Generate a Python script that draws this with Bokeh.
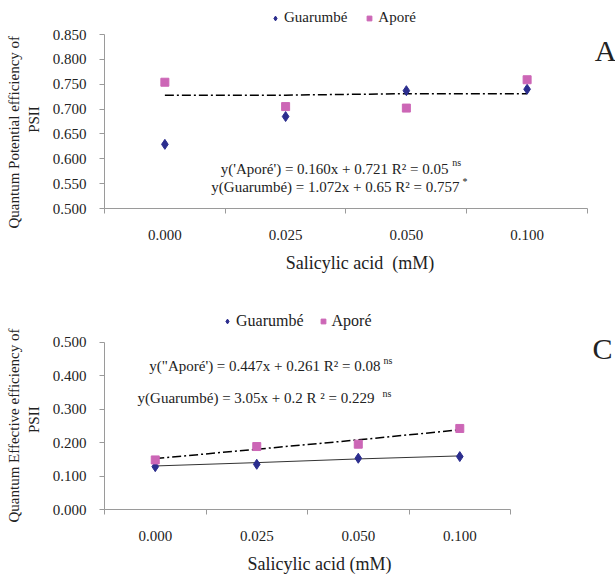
from bokeh.plotting import figure
from bokeh.models import (Range1d, FixedTicker, Legend, LegendItem, Label,
                          NumeralTickFormatter, Title)
from bokeh.layouts import column
from bokeh.embed import file_html
from bokeh.resources import INLINE

FONT = "Liberation Serif"
NAVY = "#2B2D8E"
PINK = "#CC66B6"
AXIS = "#9A9A9A"
NB = "\u00a0"

# ---- data ----
categories = ["0.000", "0.025", "0.050", "0.100"]
cat_pos = [0, 1, 2, 3]
boundaries = [-0.5, 0.5, 1.5, 2.5, 3.5]

a_guarumbe = [0.629, 0.685, 0.737, 0.740]
a_apore = [0.754, 0.705, 0.702, 0.759]
a_trend = [0.728, 0.728, 0.731, 0.731]
a_yticks = [0.500, 0.550, 0.600, 0.650, 0.700, 0.750, 0.800, 0.850]

c_guarumbe = [0.128, 0.135, 0.153, 0.158]
c_apore = [0.148, 0.188, 0.195, 0.242]
c_trend_guarumbe = [0.130, 0.140, 0.151, 0.160]
c_trend_apore = [0.152, 0.180, 0.208, 0.238]
c_yticks = [0.0, 0.1, 0.2, 0.3, 0.4, 0.5]


def make_panel(height, bottom, xr, yr, ybounds, yticks, ylabel, xlabel,
               psii_pad, title_offset):
    p = figure(width=615, height=height, x_range=Range1d(*xr),
               y_range=Range1d(*yr), output_backend="svg",
               toolbar_location=None, min_border_left=104,
               min_border_right=0, min_border_top=0,
               min_border_bottom=bottom)
    p.outline_line_color = None
    p.xgrid.visible = False
    p.ygrid.visible = False
    p.background_fill_color = "white"
    p.border_fill_color = "white"

    xa = p.xaxis[0]
    xa.bounds = (boundaries[0], boundaries[-1])
    xa.ticker = FixedTicker(ticks=cat_pos, minor_ticks=boundaries)
    xa.major_label_overrides = {i: c for i, c in zip(cat_pos, categories)}
    xa.major_tick_out = 0
    xa.major_tick_in = 0
    xa.minor_tick_out = 5
    xa.minor_tick_in = 0
    xa.minor_tick_line_color = AXIS
    xa.axis_line_color = AXIS
    xa.major_label_text_font = FONT
    xa.major_label_text_font_size = "15px"
    xa.major_label_text_color = "#222222"
    xa.major_label_standoff = 16
    xa.axis_label = xlabel
    xa.axis_label_text_font = FONT
    xa.axis_label_text_font_size = "18px"
    xa.axis_label_text_font_style = "normal"
    xa.axis_label_text_color = "#222222"
    xa.axis_label_standoff = 10

    ya = p.yaxis[0]
    ya.bounds = ybounds
    ya.ticker = FixedTicker(ticks=yticks)
    ya.formatter = NumeralTickFormatter(format="0.000")
    ya.major_tick_out = 5
    ya.major_tick_in = 0
    ya.minor_tick_line_color = None
    ya.major_tick_line_color = AXIS
    ya.axis_line_color = AXIS
    ya.major_label_text_font = FONT
    ya.major_label_text_font_size = "15px"
    ya.major_label_text_color = "#222222"
    ya.major_label_standoff = 13
    # second line of the y title ("PSII") is the axis label itself
    ya.axis_label = ylabel[1] + NB * psii_pad
    ya.axis_label_text_font = FONT
    ya.axis_label_text_font_size = "15px"
    ya.axis_label_text_font_style = "normal"
    ya.axis_label_text_color = "#222222"
    ya.axis_label_standoff = 8

    # first line of the y title, outside the axis label
    p.add_layout(Title(text=ylabel[0], align="left", offset=title_offset,
                       vertical_align="middle", standoff=0,
                       text_font=FONT, text_font_size="15px",
                       text_font_style="normal",
                       text_color="#222222"), "left")
    return p


def add_legend(p, r1, r2, loc, spacing, size):
    leg = Legend(items=[LegendItem(label="Guarumbé", renderers=[r1]),
                        LegendItem(label="Aporé", renderers=[r2])],
                 orientation="horizontal", location=loc,
                 label_text_font=FONT, label_text_font_size=size,
                 label_text_color="#222222",
                 border_line_color=None, background_fill_alpha=0,
                 glyph_width=12, glyph_height=14, label_standoff=3,
                 spacing=spacing, padding=0, margin=0)
    p.add_layout(leg, "center")


def lab(p, x, y, text, size="15px", align="left"):
    p.add_layout(Label(x=x, y=y, text=text, text_font=FONT,
                       text_font_size=size, text_baseline="middle",
                       text_align=align, text_color="#222222"))


# ---- Panel A ----
pA = make_panel(288, 80, (-0.5, 3.732), (0.5, 0.9184), (0.5, 0.85),
                a_yticks, ["Quantum Potential efficiency of", "PSII"],
                "Salicylic acid" + NB + " (mM)", 8, -20)
pA.line(cat_pos, a_trend, line_color="black", line_width=1.5,
        line_dash="9 3 2 3")
rA1 = pA.scatter(cat_pos, a_guarumbe, marker="diamond", size=10,
                 fill_color=NAVY, line_color=NAVY)
rA2 = pA.scatter(cat_pos, a_apore, marker="square", size=8,
                 fill_color=PINK, line_color=PINK)
add_legend(pA, rA1, rA2, (165, 182), 16, "15px")
lab(pA, 2.349, 0.579, "y('Aporé') = 0.160x + 0.721 R² = 0.05", align="right")
lab(pA, 2.38, 0.592, "ns", "10px")
lab(pA, 2.44, 0.5436, "y(Guarumbé) = 1.072x + 0.65 R² = 0.757",
    align="right")
lab(pA, 2.465, 0.5536, "*", "10px")
lab(pA, 3.649, 0.818, "A", "30px", "center")

# ---- Panel C ----
pC = make_panel(288, 61, (-0.5, 4.534), (0.0, 0.6599), (0.0, 0.5),
                c_yticks, ["Quantum Effective efficiency of", "PSII"],
                "Salicylic acid (mM)" + NB * 18, 11, -13)
pC.line(cat_pos, c_trend_guarumbe, line_color="#333333", line_width=1)
pC.line(cat_pos, c_trend_apore, line_color="black", line_width=1.5,
        line_dash="9 3 2 3")
rC1 = pC.scatter(cat_pos, c_guarumbe, marker="diamond", size=10,
                 fill_color=NAVY, line_color=NAVY)
rC2 = pC.scatter(cat_pos, c_apore, marker="square", size=8,
                 fill_color=PINK, line_color=PINK)
add_legend(pC, rC1, rC2, (117, 179), 13, "16px")
lab(pC, 2.219, 0.4275, "y(\"Aporé') = 0.447x + 0.261 R² = 0.08",
    align="right")
lab(pC, 2.249, 0.444, "ns", "10px")
lab(pC, 2.16, 0.333, "y(Guarumbé) = 3.05x + 0.2 R ² = 0.229",
    align="right")
lab(pC, 2.239, 0.345, "ns", "10px")
lab(pC, 4.406, 0.48, "C", "30px", "center")

layout = column(pA, pC, spacing=0)
open("out.html", "w").write(file_html(layout, INLINE))
